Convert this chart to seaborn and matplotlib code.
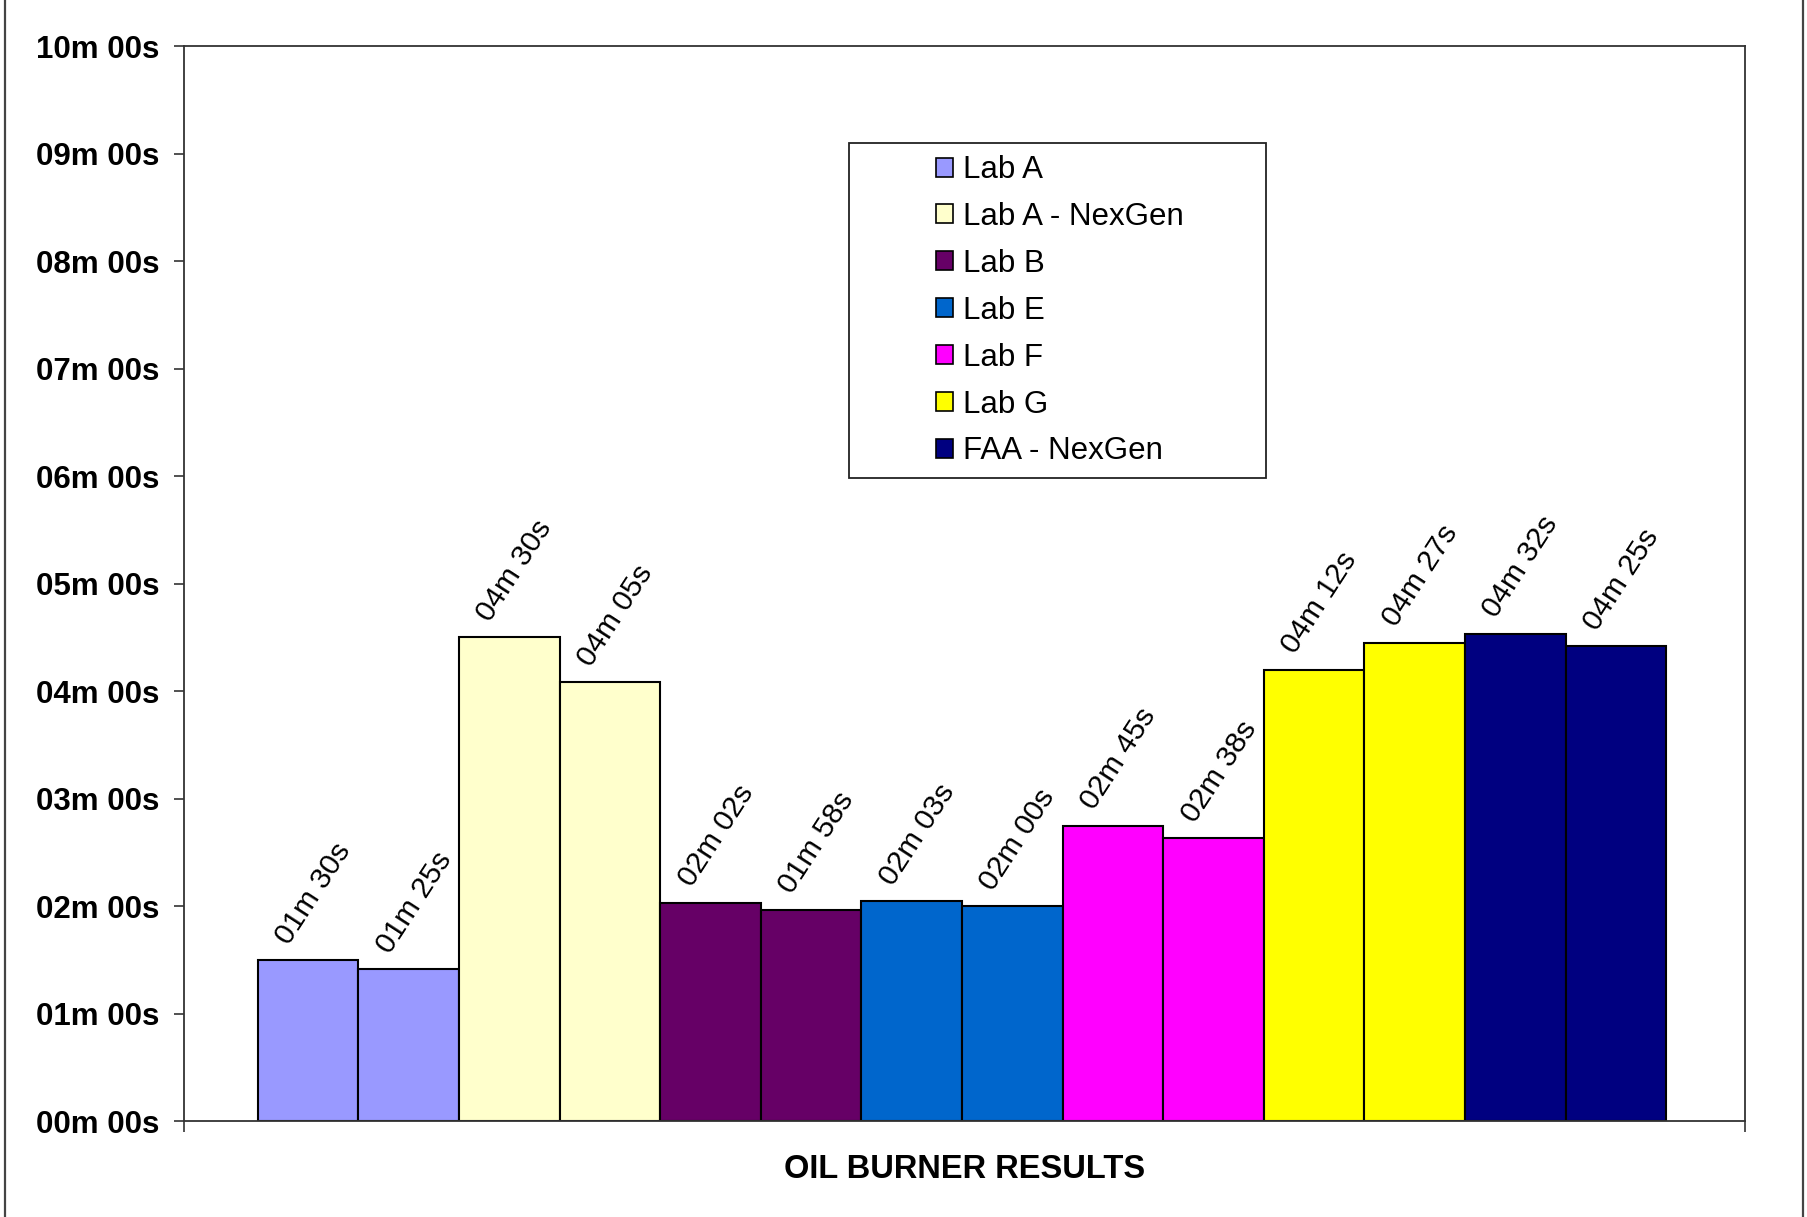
import pandas as pd
import matplotlib.pyplot as plt
import seaborn as sns
from matplotlib.patches import Patch, Rectangle
from matplotlib.lines import Line2D

labs = ['Lab A', 'Lab A', 'Lab A - NexGen', 'Lab A - NexGen', 'Lab B', 'Lab B',
        'Lab E', 'Lab E', 'Lab F', 'Lab F', 'Lab G', 'Lab G',
        'FAA - NexGen', 'FAA - NexGen']
seconds = [90, 85, 270, 245, 122, 118, 123, 120, 165, 158, 252, 267, 272, 265]
legend_labels = ['Lab A', 'Lab A - NexGen', 'Lab B', 'Lab E', 'Lab F', 'Lab G', 'FAA - NexGen']
colors = ['#9999FF', '#FFFFCC', '#660066', '#0066CC', '#FF00FF', '#FFFF00', '#000080']
ytick_labels = ['00m 00s', '01m 00s', '02m 00s', '03m 00s', '04m 00s', '05m 00s',
                '06m 00s', '07m 00s', '08m 00s', '09m 00s', '10m 00s']
xlabel = 'OIL BURNER RESULTS'

df = pd.DataFrame({'pos': list(range(len(labs))), 'lab': labs,
                   'minutes': [s / 60 for s in seconds]})
bar_text = [f'{s // 60:02d}m {s % 60:02d}s' for s in seconds]

sns.set_style('white')
plt.rcParams['font.family'] = ['Liberation Sans', 'DejaVu Sans']
plt.rcParams['text.color'] = 'black'
plt.rcParams['axes.labelcolor'] = 'black'
plt.rcParams['xtick.color'] = 'black'
plt.rcParams['ytick.color'] = 'black'

fig = plt.figure(figsize=(18.07, 12.17), dpi=100)
ax = fig.add_axes([0.1020, 0.0786, 0.8635, 0.8836])

sns.barplot(data=df, x='pos', y='minutes', hue='lab', hue_order=legend_labels,
            palette=colors, saturation=1, dodge=False, width=1, errorbar=None,
            edgecolor='black', linewidth=1.5, legend=False, ax=ax)

for i, (v, t) in enumerate(zip(df['minutes'], bar_text)):
    ax.annotate(t, (i, v), xytext=(4, 8), textcoords='offset points',
                ha='center', va='bottom', rotation=57, fontsize=21.5)

ax.set_xlim(-1.23, 14.28)
ax.set_ylim(0, 10)
ax.set_yticks(range(11))
ax.set_yticklabels(ytick_labels, fontsize=22.5, fontweight='bold')
ax.set_xticks([-1.23, 14.28])
ax.set_xticklabels(['', ''])
ax.tick_params(axis='y', direction='out', length=7, width=1.2, pad=11, color='#333333', left=True)
ax.tick_params(axis='x', direction='out', length=8, width=1.2, color='#333333', bottom=True)
ax.set_xlabel(xlabel, fontsize=23.5, fontweight='bold', labelpad=12)
ax.set_ylabel('')
for sp in ax.spines.values():
    sp.set_visible(True)
    sp.set_color('#333333')
    sp.set_linewidth(1.3)

handles = [Patch(facecolor=c, edgecolor='black', linewidth=1.2) for c in colors]
ax.legend(handles, legend_labels, loc='upper left', bbox_to_anchor=(0.4816, 0.8985),
          frameon=False, fontsize=22.5, handlelength=0.56, handleheight=0.56,
          handletextpad=0.3, labelspacing=0.54, borderpad=0, borderaxespad=0)
ax.add_patch(Rectangle((0.4261, 0.598), 0.2674, 0.312, transform=ax.transAxes,
                       fill=False, edgecolor='#222222', linewidth=1.3, zorder=5))

for x in (5 / 1807, 1803 / 1807):
    fig.add_artist(Line2D([x, x], [0, 1], transform=fig.transFigure,
                          color='#444444', linewidth=1.6))

plt.savefig('out.png', dpi=100)
plt.close()
